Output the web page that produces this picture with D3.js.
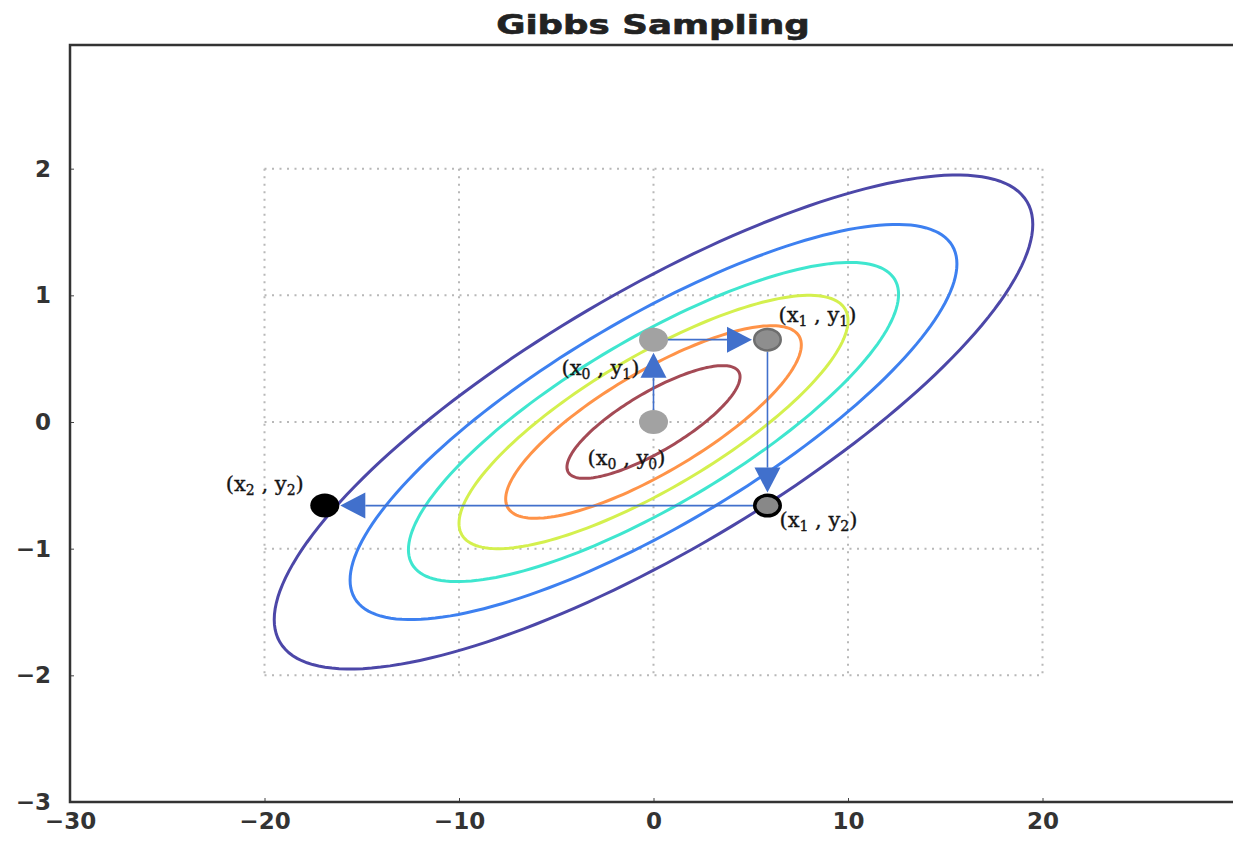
<!DOCTYPE html>
<html>
<head>
<meta charset="utf-8">
<script src="https://cdn.jsdelivr.net/npm/d3@7"></script>
<style>
  html, body { margin: 0; padding: 0; background: #fff; }
  svg { display: block; }
</style>
</head>
<body>
<svg id="chart" width="1233" height="841"></svg>
<script>
// ---- data ----
const xTicks = [-30, -20, -10, 0, 10, 20];
const yTicks = [-3, -2, -1, 0, 1, 2];
const gridX = [-20, -10, 0, 10, 20];
const gridY = [-2, -1, 0, 1, 2];

// bivariate normal contours: sigma_x, sigma_y, correlation
const sigmaX = 10;
const sigmaY = 1;
const rho = 0.8;
const contourLevels = [0.445, 0.76, 1.0, 1.26, 1.56, 1.95];
const contourColors = ["#a44a55", "#ff9348", "#d4f04e", "#3fe6cf", "#3d80f0", "#4c47a8"];

// Gibbs sampling steps
const sampleNames = ["x0,y0", "x0,y1", "x1,y1", "x1,y2", "x2,y2"];
const sampleX = [0, 0, 5.86, 5.86, -16.9];
const sampleY = [0, 0.65, 0.65, -0.66, -0.66];
const sampleLabels = [
  ["x", "0", "y", "0"],
  ["x", "0", "y", "1"],
  ["x", "1", "y", "1"],
  ["x", "1", "y", "2"],
  ["x", "2", "y", "2"]
];
const steps = [[0, 1], [1, 2], [2, 3], [3, 4]];

// ---- layout ----
const svg = d3.select("#chart");
const plotLeft = 70, plotRight = 1237, plotTop = 42, plotBottom = 802;
const x = d3.scaleLinear().domain([-30, 30]).range([plotLeft, plotRight]);
const y = d3.scaleLinear().domain([-3, 3]).range([plotBottom, plotTop]);

// title (wide heavy lettering)
svg.append("text")
  .attr("transform", "translate(653,34) scale(1.32,1)")
  .attr("text-anchor", "middle")
  .attr("font-family", "DejaVu Sans")
  .attr("font-weight", "bold")
  .attr("font-size", 27)
  .attr("fill", "#222")
  .attr("stroke", "#222")
  .attr("stroke-width", 0.6)
  .text("Gibbs Sampling");

// dotted grid restricted to the inner box
const grid = svg.append("g")
  .attr("stroke", "#b8b8b8")
  .attr("stroke-width", 2)
  .attr("stroke-dasharray", "2,5.5");
grid.selectAll("line.gx").data(gridX).join("line")
  .attr("class", "gx")
  .attr("x1", d => x(d)).attr("x2", d => x(d))
  .attr("y1", y(2)).attr("y2", y(-2));
grid.selectAll("line.gy").data(gridY).join("line")
  .attr("class", "gy")
  .attr("x1", x(-20)).attr("x2", x(20))
  .attr("y1", d => y(d)).attr("y2", d => y(d));

// contour ellipses
const tSteps = d3.range(0, 360, 2).map(a => a * Math.PI / 180);
const ellipse = d3.line().curve(d3.curveLinearClosed);
svg.append("g").selectAll("path").data(contourLevels).join("path")
  .attr("fill", "none")
  .attr("stroke", (d, i) => contourColors[i])
  .attr("stroke-width", 3)
  .attr("d", k => ellipse(tSteps.map(t => {
    const dx = k * sigmaX * Math.cos(t);
    const dy = k * sigmaY * (rho * Math.cos(t) + Math.sqrt(1 - rho * rho) * Math.sin(t));
    return [x(dx), y(dy)];
  })));

// arrows between successive samples
const arrowColor = "#4170cc";
const rx = 14.5, ry = 12, headLen = 25, headHalf = 13;
const arrows = svg.append("g");
steps.forEach(([a, b]) => {
  const x0 = x(sampleX[a]), y0 = y(sampleY[a]);
  const x1 = x(sampleX[b]), y1 = y(sampleY[b]);
  const horizontal = Math.abs(x1 - x0) > Math.abs(y1 - y0);
  const ux = Math.sign(x1 - x0), uy = Math.sign(y1 - y0);
  const pad = horizontal ? rx : ry;
  const sx = x0 + ux * pad, sy = y0 + uy * pad;
  const tx = x1 - ux * (pad + 1), ty = y1 - uy * (pad + 1);
  const bx = tx - ux * headLen, by = ty - uy * headLen;
  arrows.append("line")
    .attr("x1", sx).attr("y1", sy).attr("x2", bx).attr("y2", by)
    .attr("stroke", arrowColor).attr("stroke-width", 1.6);
  const px = -uy * headHalf, py = ux * headHalf;
  arrows.append("path")
    .attr("d", `M${tx},${ty}L${bx + px},${by + py}L${bx - px},${by - py}Z`)
    .attr("fill", arrowColor);
});

// sample markers
const markerStyle = [
  { fill: "#a2a2a2", stroke: "none", sw: 0 },
  { fill: "#a2a2a2", stroke: "none", sw: 0 },
  { fill: "#8e8e8e", stroke: "#6e6e6e", sw: 2.5 },
  { fill: "#888888", stroke: "#000", sw: 3.5 },
  { fill: "#000", stroke: "none", sw: 0 }
];
svg.append("g").selectAll("ellipse").data(sampleNames).join("ellipse")
  .attr("cx", (d, i) => x(sampleX[i]))
  .attr("cy", (d, i) => y(sampleY[i]))
  .attr("rx", (d, i) => rx - markerStyle[i].sw / 2)
  .attr("ry", (d, i) => ry - markerStyle[i].sw / 2)
  .attr("fill", (d, i) => markerStyle[i].fill)
  .attr("stroke", (d, i) => markerStyle[i].stroke)
  .attr("stroke-width", (d, i) => markerStyle[i].sw);

// sample labels (x_i , y_j)
const labelOffsets = [[-66, 43], [-92, 35], [11, -18], [12, 21], [-99, -15]];
const labels = svg.append("g")
  .attr("font-family", "DejaVu Serif, Liberation Serif, serif")
  .attr("font-size", 21)
  .attr("fill", "#151515")
  .attr("stroke", "#151515")
  .attr("stroke-width", 0.35);
sampleLabels.forEach((parts, i) => {
  const t = labels.append("text")
    .attr("x", x(sampleX[i]) + labelOffsets[i][0])
    .attr("y", y(sampleY[i]) + labelOffsets[i][1]);
  t.append("tspan").text("(" + parts[0]);
  t.append("tspan").attr("font-size", 14).attr("dy", 4).text(parts[1]);
  t.append("tspan").attr("dy", -4).text(" , " + parts[2]);
  t.append("tspan").attr("font-size", 14).attr("dy", 4).text(parts[3]);
  t.append("tspan").attr("dy", -4).text(")");
});

// axes
const axisFont = g => g.selectAll("text")
  .attr("font-family", "DejaVu Sans")
  .attr("font-weight", "bold")
  .attr("font-size", 23)
  .attr("fill", "#333");
const fmt = d => d3.format("d")(d).replace("-", "\u2212");

const xAxis = svg.append("g")
  .attr("transform", `translate(0,${plotBottom})`)
  .call(d3.axisBottom(x).tickValues(xTicks).tickSize(-4).tickPadding(14).tickFormat(fmt));
xAxis.select(".domain").remove();
xAxis.selectAll("line").attr("stroke", "#444");
axisFont(xAxis);
xAxis.selectAll("text").attr("dy", "0.55em");

const yAxis = svg.append("g")
  .attr("transform", `translate(${plotLeft},0)`)
  .call(d3.axisLeft(y).tickValues(yTicks).tickSize(-4).tickPadding(19).tickFormat(fmt));
yAxis.select(".domain").remove();
yAxis.selectAll("line").attr("stroke", "#444");
axisFont(yAxis);

// frame (left, bottom, top spines)
svg.append("path")
  .attr("d", `M${plotRight},${plotTop + 3}H${plotLeft}V${plotBottom}H${plotRight}`)
  .attr("fill", "none")
  .attr("stroke", "#333")
  .attr("stroke-width", 2.5);
</script>
</body>
</html>
